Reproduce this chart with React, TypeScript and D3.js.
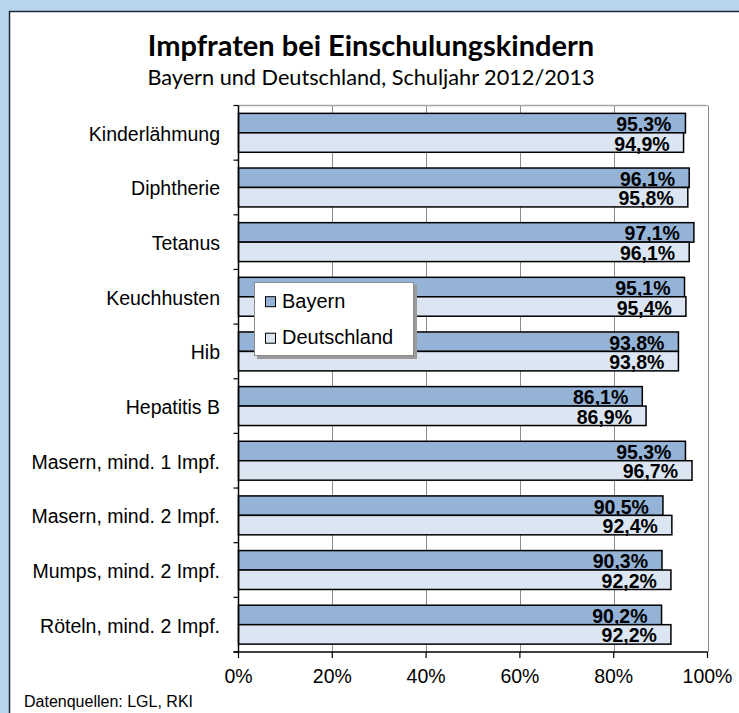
import { useEffect, useRef } from "react";
import * as d3 from "d3";

const categories = [
  "Kinderlähmung",
  "Diphtherie",
  "Tetanus",
  "Keuchhusten",
  "Hib",
  "Hepatitis B",
  "Masern, mind. 1 Impf.",
  "Masern, mind. 2 Impf.",
  "Mumps, mind. 2 Impf.",
  "Röteln, mind. 2 Impf.",
];
const bayern = [95.3, 96.1, 97.1, 95.1, 93.8, 86.1, 95.3, 90.5, 90.3, 90.2];
const deutschland = [94.9, 95.8, 96.1, 95.4, 93.8, 86.9, 96.7, 92.4, 92.2, 92.2];
const seriesNames = ["Bayern", "Deutschland"];
const xTicks = [0, 20, 40, 60, 80, 100];

const W = 739;
const H = 713;
const ARIAL = "'Liberation Sans', Arial, sans-serif";
const CALIBRI = "Lato, 'Open Sans', sans-serif";
const colors = ["#95b3d7", "#dce6f2"];

const App = () => {
  const svgRef = useRef<SVGSVGElement | null>(null);

  useEffect(() => {
    const svg = d3.select(svgRef.current);
    svg.selectAll("*").remove();

    // background + white panel
    svg.append("rect").attr("width", W).attr("height", H).attr("fill", "#b8d7ef");
    svg.append("rect").attr("x", 9.5).attr("y", 11.5).attr("width", W).attr("height", H)
      .attr("fill", "#fff").attr("stroke", "#1c2a3a").attr("stroke-width", 1.5);

    // titles
    svg.append("text").attr("x", 371).attr("y", 56).attr("text-anchor", "middle")
      .style("font-family", CALIBRI).style("font-weight", "bold").style("font-size", "29px")
      .text("Impfraten bei Einschulungskindern");
    svg.append("text").attr("x", 371).attr("y", 85).attr("text-anchor", "middle")
      .style("font-family", CALIBRI).style("font-size", "21.7px")
      .text("Bayern und Deutschland, Schuljahr 2012/2013");

    const left = 238.5, right = 707.5, top = 105.5, bottom = 652;

    const x = d3.scaleLinear().domain([0, 100]).range([left, right]);
    const y = d3.scaleBand().domain(categories).range([top, bottom]);
    const bh = y.bandwidth() * 0.356;
    const off = (y.bandwidth() - 2 * bh) / 2;

    const g = svg.append("g");

    // gridlines
    g.selectAll(".grid").data(xTicks.slice(1)).enter().append("line")
      .attr("x1", (d) => Math.round(x(d)) + 0.5).attr("x2", (d) => Math.round(x(d)) + 0.5)
      .attr("y1", top).attr("y2", bottom)
      .attr("stroke", "#8c8c8c").attr("stroke-width", 1);
    g.append("line").attr("x1", left).attr("x2", right).attr("y1", top).attr("y2", top)
      .attr("stroke", "#a6a6a6").attr("stroke-width", 1.5);

    const loc = d3.formatLocale({ decimal: ",", thousands: ".", grouping: [3], currency: ["", "€"] });
    const fmt = loc.format(".1f");

    const series = [bayern, deutschland];
    series.forEach((vals, si) => {
      g.selectAll(".bar" + si).data(categories).enter().append("rect")
        .attr("x", x(0))
        .attr("y", (d) => (y(d) as number) + off + si * bh)
        .attr("width", (d, i) => x(vals[i]) - x(0))
        .attr("height", bh)
        .attr("fill", colors[si])
        .attr("stroke", "#000").attr("stroke-width", 1.5);
      g.selectAll(".lab" + si).data(categories).enter().append("text")
        .attr("x", (d, i) => x(vals[i]) - 14)
        .attr("y", (d) => (y(d) as number) + off + (si + 1) * bh - 1.7)
        .attr("text-anchor", "end")
        .style("font-family", ARIAL).style("font-weight", "bold").style("font-size", "19.5px")
        .attr("fill", "#000")
        .text((d, i) => fmt(vals[i]) + "%");
    });

    // y axis
    g.append("line").attr("x1", left).attr("x2", left).attr("y1", top).attr("y2", bottom)
      .attr("stroke", "#000").attr("stroke-width", 1.5);
    const bounds = categories.map((c) => y(c) as number).concat([bottom]);
    g.selectAll(".ytick").data(bounds).enter().append("line")
      .attr("x1", left - 5).attr("x2", left).attr("y1", (d) => d).attr("y2", (d) => d)
      .attr("stroke", "#000").attr("stroke-width", 1.2);
    g.selectAll(".ylab").data(categories).enter().append("text")
      .attr("x", 220).attr("y", (d) => (y(d) as number) + y.bandwidth() / 2 + 8)
      .attr("text-anchor", "end")
      .style("font-family", ARIAL).style("font-size", "19.5px").attr("fill", "#000")
      .text((d) => d);

    // x axis
    g.append("line").attr("x1", left - 5).attr("x2", right).attr("y1", bottom).attr("y2", bottom)
      .attr("stroke", "#000").attr("stroke-width", 1.5);
    g.selectAll(".xtick").data(xTicks).enter().append("line")
      .attr("x1", (d) => x(d)).attr("x2", (d) => x(d)).attr("y1", bottom).attr("y2", bottom + 6)
      .attr("stroke", "#000").attr("stroke-width", 1.2);
    g.selectAll(".xlab").data(xTicks).enter().append("text")
      .attr("x", (d) => x(d)).attr("y", 683)
      .attr("text-anchor", "middle")
      .style("font-family", ARIAL).style("font-size", "19.5px").attr("fill", "#000")
      .text((d) => d + "%");

    // legend
    const lg = svg.append("g");
    lg.append("rect").attr("x", 257).attr("y", 285).attr("width", 160).attr("height", 74).attr("fill", "#9a9a9a");
    lg.append("rect").attr("x", 254.5).attr("y", 282.5).attr("width", 159).attr("height", 73)
      .attr("fill", "#fff").attr("stroke", "#8c8c8c").attr("stroke-width", 1);
    seriesNames.forEach((name, i) => {
      const ly = 307.7 + i * 36.5;
      lg.append("rect").attr("x", 265.5).attr("y", ly - 11).attr("width", 10).attr("height", 10)
        .attr("fill", colors[i]).attr("stroke", "#000").attr("stroke-width", 1);
      lg.append("text").attr("x", 282).attr("y", ly)
        .style("font-family", ARIAL).style("font-size", "20px").attr("fill", "#000")
        .text(name);
    });

    svg.append("text").attr("x", 24).attr("y", 707)
      .style("font-family", ARIAL).style("font-size", "16px").attr("fill", "#000")
      .text("Datenquellen: LGL, RKI");
  }, []);

  return (
    <div style={{ position: "absolute", left: 0, top: 0 }}>
      <svg ref={svgRef} width={W} height={H} style={{ display: "block" }}></svg>
    </div>
  );
};

export default App;
